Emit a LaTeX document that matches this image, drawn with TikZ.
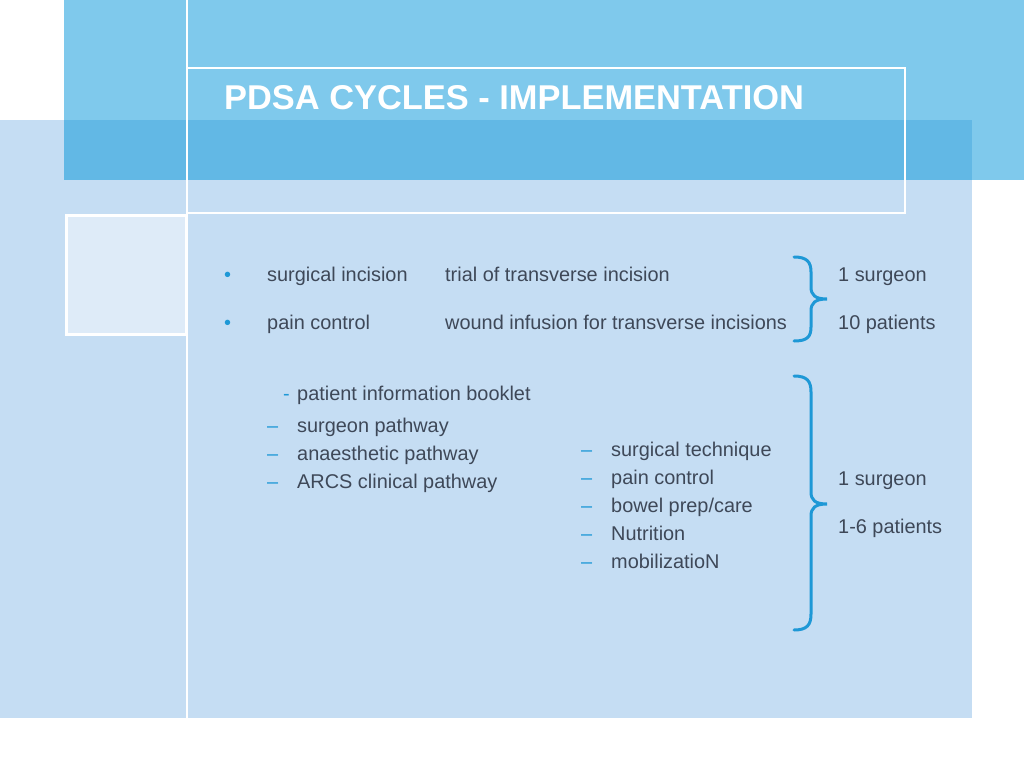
\documentclass[tikz,border=0pt]{standalone}
\usepackage{fontspec}
\setmainfont{Liberation Sans}
\usepackage{tikz}
\usetikzlibrary{positioning}
\definecolor{paleBlue}{HTML}{C5DDF3}
\definecolor{skyBlue}{HTML}{7FC9EC}
\definecolor{bandBlue}{HTML}{62B8E5}
\definecolor{boxBlue}{HTML}{DEEBF8}
\definecolor{braceBlue}{HTML}{1E98D6}
\definecolor{textGray}{HTML}{3E4858}

\begin{document}
\begin{tikzpicture}[x=1pt, y=-1pt,
    txt/.style={anchor=base west, inner sep=0pt, text=textGray, font=\fontsize{19.9}{24}\selectfont},
    dashmark/.style={anchor=base west, inner sep=0pt, text=braceBlue, font=\fontsize{19.9}{24}\selectfont},
    brace/.style={draw=braceBlue, line width=3pt, line cap=round}]
        \useasboundingbox (0,0) rectangle (1024,768);
        % background panels
        \fill[white] (0,0) rectangle (1024,768);
        \fill[paleBlue] (0,120) rectangle (972,718);
        \fill[skyBlue] (64,0) rectangle (1024,180);
        \fill[bandBlue] (64,120) rectangle (972,180);
        \draw[white, line width=1.2pt] (187,0) -- (187,718);
        \draw[white, line width=1.2pt] (187,68) rectangle (905,213);
        \draw[white, line width=3pt, fill=boxBlue] (66,215) rectangle (186,334);

        \node (title) at (224,109) [anchor=base west, inner sep=0pt, text=white, font=\fontsize{34.4}{40}\selectfont\bfseries] {PDSA CYCLES - IMPLEMENTATION};

        % first block
        \node (b1) at (224,281) [dashmark] {•};
        \node (b2) at (224,329) [dashmark] {•};
        \node (inc) at (267,281) [txt] {surgical incision};
        \node (pain) at (267,329) [txt] {pain control};
        \node (trial) at (445,281) [txt] {trial of transverse incision};
        \node (wound) at (445,329) [txt] {wound infusion for transverse incisions};
        \node (surgA) at (838,281) [txt] {1 surgeon};
        \node (patA) at (838,329) [txt] {10 patients};

        % pathway list
        \node (d1) at (283,400) [dashmark] {-};
        \node (d2) at (267,432) [dashmark] {–};
        \node (d3) at (267,460) [dashmark] {–};
        \node (d4) at (267,488) [dashmark] {–};
        \node (booklet) at (297,400) [txt] {patient information booklet};
        \node (surgpath) at (297,432) [txt] {surgeon pathway};
        \node (anaes) at (297,460) [txt] {anaesthetic pathway};
        \node (arcs) at (297,488) [txt] {ARCS clinical pathway};

        % technique list
        \node (e1) at (581,456) [dashmark] {–};
        \node (e2) at (581,484) [dashmark] {–};
        \node (e3) at (581,512) [dashmark] {–};
        \node (e4) at (581,540) [dashmark] {–};
        \node (e5) at (581,568) [dashmark] {–};
        \node (tech) at (611,456) [txt] {surgical technique};
        \node (painB) at (611,484) [txt] {pain control};
        \node (bowel) at (611,512) [txt] {bowel prep/care};
        \node (nutr) at (611,540) [txt] {Nutrition};
        \node (mobil) at (611,568) [txt] {mobilizatioN};
        \node (surgB) at (838,485) [txt] {1 surgeon};
        \node (patB) at (838,533) [txt] {1-6 patients};

        % braces
        \draw[brace] (794,257) .. controls (807,257) and (811,262) .. (811,272) -- (811,287)
            .. controls (811,295) and (815,299) .. (827,299)
            .. controls (815,299) and (811,303) .. (811,311) -- (811,327)
            .. controls (811,337) and (807,341) .. (794,341);
        \draw[brace] (794,376) .. controls (807,376) and (811,381) .. (811,392) -- (811,492)
            .. controls (811,500) and (815,504) .. (827,504)
            .. controls (815,504) and (811,508) .. (811,516) -- (811,614)
            .. controls (811,625) and (807,630) .. (794,630);
    \end{tikzpicture}
\end{document}
